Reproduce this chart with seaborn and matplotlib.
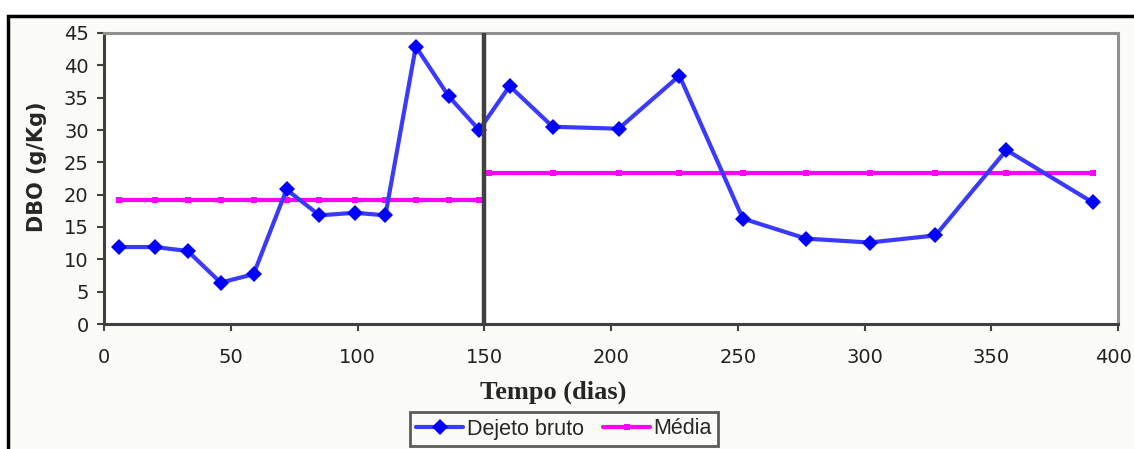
import matplotlib
matplotlib.use("Agg")
import matplotlib.pyplot as plt
import matplotlib.transforms as mtransforms
from matplotlib.patches import Rectangle
from matplotlib.lines import Line2D
import seaborn as sns
import pandas as pd

# ---- data ----
dias = [6, 20, 33, 46, 59, 72, 85, 99, 111, 123, 136, 148,
        160, 177, 203, 227, 252, 277, 302, 328, 356, 390]
dejeto_bruto = [11.9, 11.9, 11.3, 6.4, 7.7, 20.8, 16.8, 17.2, 16.8, 42.9, 35.2, 30.0,
                36.8, 30.5, 30.2, 38.4, 16.3, 13.2, 12.6, 13.7, 26.9, 18.8]
media_dias_1 = [6, 20, 33, 46, 59, 72, 85, 99, 111, 123, 136, 148]
media_val_1 = [19.1] * 12
media_dias_2 = [152, 177, 203, 227, 252, 277, 302, 328, 356, 390]
media_val_2 = [23.4] * 10
divisao = 150
x_ticks = [0, 50, 100, 150, 200, 250, 300, 350, 400]
y_ticks = [0, 5, 10, 15, 20, 25, 30, 35, 40, 45]

sns.set_theme(style="white")
plt.rcParams['font.family'] = ['DejaVu Sans']

W, H = 1134, 449
fig = plt.figure(figsize=(W / 100, H / 100), dpi=100)
fig.patch.set_facecolor('white')

# outer chart frame (Excel chart area)
fig.patches.append(Rectangle((8 / W, -0.1), 1.2, 1 - 16 / H + 0.1, transform=fig.transFigure,
                             facecolor='#fbfbf8', edgecolor='black', lw=2.5, zorder=-10))

ax = fig.add_axes([104 / W, 1 - 324 / H, (1118 - 104) / W, (324 - 33) / H])
ax.set_facecolor('white')

df_b = pd.DataFrame({'dias': dias, 'DBO': dejeto_bruto})
df_m1 = pd.DataFrame({'dias': media_dias_1, 'DBO': media_val_1})
df_m2 = pd.DataFrame({'dias': media_dias_2, 'DBO': media_val_2})

blue = '#3a3aff'
mag = '#ff00ff'

sns.lineplot(data=df_m1, x='dias', y='DBO', ax=ax, color=mag, lw=3, marker='s',
             markersize=5, markeredgewidth=0, markerfacecolor=mag, zorder=3)
sns.lineplot(data=df_m2, x='dias', y='DBO', ax=ax, color=mag, lw=3, marker='s',
             markersize=5, markeredgewidth=0, markerfacecolor=mag, zorder=3)
sns.lineplot(data=df_b, x='dias', y='DBO', ax=ax, color=blue, lw=3, marker='D',
             markersize=8.5, markeredgewidth=0, markerfacecolor='#0000ff', zorder=4)

ax.axvline(divisao, color='#404040', lw=3.2, zorder=5)

ax.set_xlim(0, 400)
ax.set_ylim(0, 45)
ax.set_xticks(x_ticks)
ax.set_yticks(y_ticks)
ax.tick_params(axis='both', direction='out', length=5, width=1.5, color='#404040',
               labelsize=14, labelcolor='#222222')
ax.tick_params(axis='x', pad=12, bottom=True)
ax.tick_params(axis='y', pad=6, left=True)

# keep the last x tick label inside the picture
last = ax.get_xticklabels()[-1]
last.set_transform(last.get_transform() +
                   mtransforms.ScaledTranslation(-5 / 100, 0, fig.dpi_scale_trans))

for s in ['left', 'bottom']:
    ax.spines[s].set_color('#404040')
    ax.spines[s].set_linewidth(2.2)
for s in ['top', 'right']:
    ax.spines[s].set_color('#909090')
    ax.spines[s].set_linewidth(2.2)

ax.set_xlabel('Tempo (dias)', fontsize=19, fontweight='bold', family='Liberation Serif')
ax.xaxis.set_label_coords((553 - 104) / 1014, (324 - 381) / 291)
ax.set_ylabel('DBO (g/Kg)', fontsize=15, fontweight='bold')
ax.yaxis.set_label_coords((47 - 104) / 1014, (324 - 167) / 291)

handles = [Line2D([], [], color=blue, lw=3, marker='D', markersize=8.5,
                  markerfacecolor='#0000ff', markeredgewidth=0),
           Line2D([], [], color=mag, lw=3, marker='s', markersize=5,
                  markerfacecolor=mag, markeredgewidth=0)]
leg = fig.legend(handles, ['Dejeto bruto', 'Média'], loc='center',
                 bbox_to_anchor=(564 / W, 1 - 429 / H), bbox_transform=fig.transFigure,
                 ncol=2, fancybox=False, frameon=True, handlelength=2.2,
                 handletextpad=0.15, columnspacing=0.9, borderpad=0.3,
                 prop={'family': 'Liberation Sans', 'size': 15.5})
leg.get_frame().set_edgecolor('#333333')
leg.get_frame().set_linewidth(2)
leg.get_frame().set_facecolor('#fbfbf8')

fig.savefig('out.png', dpi=100)
